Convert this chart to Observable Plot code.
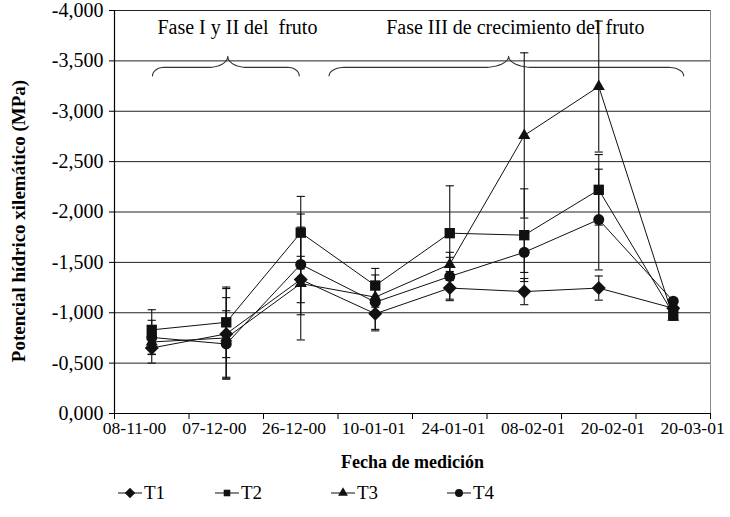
<!DOCTYPE html>
<html><head><meta charset="utf-8">
<script src="https://cdn.jsdelivr.net/npm/d3@7"></script>
<script src="https://cdn.jsdelivr.net/npm/@observablehq/plot@0.6"></script>
<style>
body{margin:0;background:#fff;}
#wrap{position:relative;width:730px;height:517px;font-family:"Liberation Serif",serif;}
#wrap svg text{font-family:"Liberation Serif",serif;}
.leg{position:absolute;display:flex;align-items:center;font-family:"Liberation Serif",serif;font-size:19px;color:#000;height:16px;}
.leg svg{display:block;margin-right:2px;}
</style></head><body><div id="wrap"></div>
<script>
// ---- data ----
const fechas = ["08-11-00","07-12-00","26-12-00","10-01-01","24-01-01","08-02-01","20-02-01","20-03-01"];
const T1 = [-0.65, -0.79, -1.33, -0.99, -1.245, -1.21, -1.245, -1.045];
const T2 = [-0.83, -0.905, -1.795, -1.27, -1.79, -1.77, -2.22, -0.99];
const T3 = [-0.71, -0.75, -1.29, -1.155, -1.48, -2.76, -3.245, -0.955];
const T4 = [-0.755, -0.69, -1.48, -1.105, -1.36, -1.60, -1.925, -1.115];
const E1 = [0.15, 0.45, 0.23, 0.17, 0.11, 0.13, 0.12, 0.03];
const E2 = [0.20, 0.35, 0.36, 0.17, 0.47, 0.46, 0.35, 0.03];
const E3 = [0.12, 0.40, 0.56, 0.10, 0.07, 0.82, 0.65, 0.03];
const E4 = [0.17, 0.33, 0.50, 0.27, 0.24, 0.20, 0.50, 0.03];
const series = ["T1","T2","T3","T4"];
const yTicks = [0, -0.5, -1, -1.5, -2, -2.5, -3, -3.5, -4];
const fases = ["Fase I y II del\u00a0 fruto", "Fase III de crecimiento del fruto"];
const yTitle = "Potencial hídrico xilemático (MPa)";
const xTitle = "Fecha de medición";

// ---- build tables ----
const vals = [T1, T2, T3, T4], errs = [E1, E2, E3, E4];
const symbols = ["diamond2", "square2", "triangle2", "circle"];
const rSize = [6.3, 6.6, 5.8, 5.5];
const rows = [];
series.forEach((s, k) => vals[k].forEach((v, i) => rows.push({serie: s, i, v, e: errs[k][i]})));
const caps = rows.flatMap(d => [d.v - d.e, d.v + d.e].map(y => ({i: d.i, y})));

// braces (annotation shapes, in data units)
const braceDefs = [{x1: 0.01, xm: 1.02, x2: 1.98, px: 0.26, rx: 0.15},
                   {x1: 2.38, xm: 4.79, x2: 7.14, px: 0.33, rx: 0.2}];
const yF = -3.435, yE = -3.35, yP = -3.545;
const braceRows = [];
braceDefs.forEach((b, id) => {
  const n = 12, pts = [];
  for (let j = 0; j <= n; j++) { const t = j / n * Math.PI / 2;
    pts.push([b.x1 + b.rx * (1 - Math.cos(t)), yE + (yF - yE) * Math.sin(t)]); }
  for (let j = 0; j <= n; j++) { const t = j / n * Math.PI / 2;
    pts.push([b.xm - b.px + b.px * Math.sin(t), yF + (yP - yF) * (1 - Math.cos(t))]); }
  for (let j = n; j >= 0; j--) { const t = j / n * Math.PI / 2;
    pts.push([b.xm + b.px - b.px * Math.sin(t), yF + (yP - yF) * (1 - Math.cos(t))]); }
  for (let j = n; j >= 0; j--) { const t = j / n * Math.PI / 2;
    pts.push([b.x2 - b.rx * (1 - Math.cos(t)), yE + (yF - yE) * Math.sin(t)]); }
  pts.forEach(p => braceRows.push({id, x: p[0], y: p[1]}));
});
const faseRows = [{x: 1.15, y: -3.83, t: fases[0]}, {x: 4.88, y: -3.83, t: fases[1]}];

const fmt = d3.formatLocale({decimal: ",", thousands: ".", grouping: [3], currency: ["", ""], minus: "-"}).format(".3f");
const bounds = d3.range(-0.5, 8, 1);
const FF = '"Liberation Serif", serif';

const chart = Plot.plot({
  width: 730, height: 478,
  marginLeft: 114, marginRight: 20, marginTop: 10, marginBottom: 65,
  style: {fontFamily: FF, fontSize: "17px", color: "#000", background: "#fff"},
  x: {type: "linear", domain: [-0.5, 7.5], axis: null},
  y: {type: "linear", domain: [0, -4], axis: null},
  marks: [
    Plot.ruleY(yTicks, {stroke: "#222", strokeWidth: 1}),
    Plot.ruleX([7.5], {stroke: "#888", strokeWidth: 1}),
    Plot.ruleX([-0.5], {stroke: "#000", strokeWidth: 1.2}),
    Plot.ruleY([0], {stroke: "#000", strokeWidth: 1.2}),
    Plot.axisY({ticks: yTicks, tickFormat: fmt, tickSize: 5, tickPadding: 6, fontSize: 20, fontFamily: FF, label: null, stroke: "#000", ariaLabel: "ylab"}),
    Plot.axisX({ticks: bounds, tickFormat: () => "", tickSize: 6, label: null}),
    Plot.text(fechas, {x: (d, i) => -0.23 + i * 1.07, frameAnchor: "bottom", lineAnchor: "middle", dy: 15, text: d => d, fontSize: 17.5, fontFamily: FF}),
    Plot.text([xTitle], {frameAnchor: "bottom", lineAnchor: "middle", textAnchor: "middle", dy: 49, fontWeight: "bold", fontSize: 18, fontFamily: FF}),
    Plot.text([yTitle], {frameAnchor: "left", textAnchor: "middle", lineAnchor: "middle", dx: -96, dy: 9, rotate: -90, fontWeight: "bold", fontSize: 19, fontFamily: FF}),
    Plot.line(braceRows, {x: "x", y: "y", z: "id", stroke: "#333", strokeWidth: 1.1}),
    Plot.text(faseRows, {x: "x", y: "y", text: "t", fontSize: 20, fontFamily: FF}),
    Plot.ruleX(rows, {x: "i", y1: d => d.v - d.e, y2: d => d.v + d.e, stroke: "#111", strokeWidth: 1.1}),
    Plot.link(caps, {x1: d => d.i - 0.055, x2: d => d.i + 0.055, y1: "y", y2: "y", stroke: "#111", strokeWidth: 1.1}),
    Plot.line(rows, {x: "i", y: "v", z: "serie", stroke: "#111", strokeWidth: 1}),
    ...series.map((s, k) => Plot.dot(rows.filter(d => d.serie === s), {x: "i", y: "v", symbol: symbols[k], r: rSize[k], fill: "#111", stroke: "none"}))
  ]
});
d3.select(chart).selectAll('g[aria-label="ylab"] text').style("letter-spacing", "0.6px");
const wrap = document.getElementById("wrap");
wrap.appendChild(chart);

// legend
const legX = [118, 215, 331, 447];
const d3sym = [d3.symbolDiamond2, d3.symbolSquare2, d3.symbolTriangle2, d3.symbolCircle];
const legSize = [70, 55, 70, 50];
series.forEach((s, k) => {
  const div = document.createElement("div");
  div.className = "leg";
  div.style.left = legX[k] + "px";
  div.style.top = "485px";
  const path = d3.symbol(d3sym[k], legSize[k])();
  div.innerHTML = `<svg width="24" height="14"><line x1="0" x2="24" y1="7" y2="7" stroke="#111" stroke-width="1"/><path transform="translate(12,7)" d="${path}" fill="#111"/></svg><span>${s}</span>`;
  wrap.appendChild(div);
});
</script>
</body></html>
